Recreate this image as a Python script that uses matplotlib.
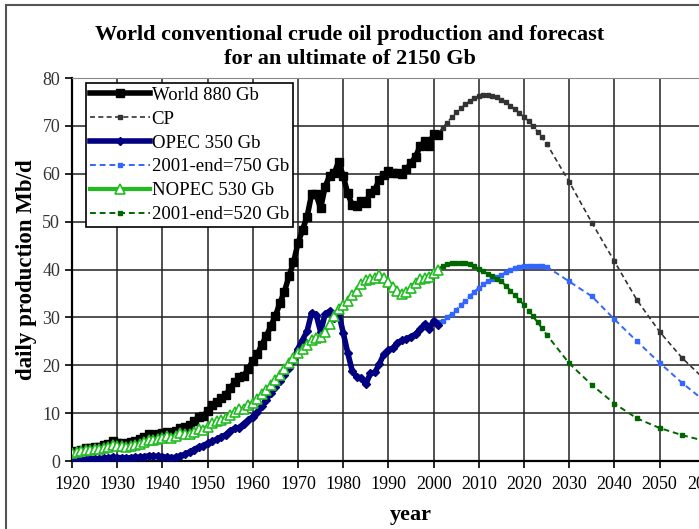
import matplotlib
matplotlib.use("Agg")
from matplotlib import pyplot as plt
from matplotlib.patches import Rectangle

plt.rcParams['font.family'] = ['Liberation Serif', 'DejaVu Serif']

# historical production 1920-2001, Mb/d
years = list(range(1920, 2002))
world = [1.9, 2.1, 2.4, 2.8, 2.8, 2.9, 3.0, 3.4, 3.6, 4.1,
         3.8, 3.8, 3.6, 3.9, 4.1, 4.5, 5.0, 5.6, 5.5, 5.7,
         5.9, 6.1, 5.7, 6.2, 7.0, 7.1, 7.5, 8.3, 9.3, 9.4,
         10.4, 11.7, 12.3, 13.1, 13.8, 15.2, 16.5, 17.5, 17.8, 19.3,
         20.9, 22.3, 24.3, 26.1, 28.2, 30.3, 33.0, 35.4, 38.6, 41.5,
         45.5, 48.3, 51.0, 55.7, 55.7, 52.8, 57.3, 59.6, 60.1, 62.5,
         59.5, 55.9, 53.4, 53.2, 54.4, 53.9, 56.0, 56.7, 58.7, 59.8,
         60.5, 60.2, 60.1, 60.0, 61.0, 62.2, 63.6, 65.7, 66.8, 65.9,
         68.3, 68.0]
opec = [0.2, 0.2, 0.3, 0.3, 0.4, 0.5, 0.5, 0.6, 0.7, 0.8,
        0.7, 0.7, 0.6, 0.7, 0.8, 0.8, 0.9, 1.1, 1.0, 1.0,
        0.9, 0.8, 0.7, 0.8, 1.1, 1.4, 1.9, 2.4, 2.9, 3.2,
        3.7, 4.1, 4.5, 5.0, 5.5, 6.3, 6.8, 7.0, 7.8, 8.5,
        9.3, 10.2, 11.5, 12.8, 14.3, 15.5, 16.8, 18.0, 19.5, 21.0,
        23.5, 25.3, 27.1, 30.9, 30.6, 27.0, 30.7, 31.3, 29.8, 30.9,
        26.8, 22.6, 18.8, 17.5, 17.4, 16.0, 18.3, 18.5, 20.3, 22.3,
        23.2, 23.6, 24.7, 25.2, 25.5, 26.0, 26.5, 27.5, 28.6, 27.6,
        29.3, 28.5]
nopec = [1.6, 1.8, 2.0, 2.3, 2.3, 2.5, 2.6, 2.8, 2.9, 3.3,
         3.1, 3.1, 3.0, 3.2, 3.3, 3.6, 4.0, 4.4, 4.4, 4.6,
         4.8, 5.2, 4.9, 5.3, 5.8, 5.6, 5.7, 6.1, 6.6, 6.5,
         7.2, 7.9, 8.3, 8.6, 8.9, 9.6, 10.3, 10.8, 10.9, 11.6,
         12.2, 12.9, 13.9, 14.9, 15.8, 16.9, 18.0, 19.3, 20.4, 21.6,
         22.6, 23.5, 24.3, 25.2, 25.6, 26.0, 27.0, 28.7, 30.3, 31.7,
         32.5, 33.4, 34.6, 35.6, 36.9, 37.8, 38.0, 38.2, 38.9, 38.3,
         37.4, 36.3, 35.5, 34.9, 35.3, 36.2, 37.2, 38.0, 38.3, 38.4,
         39.3, 39.8]

# forecasts: yearly to 2025, then every 5 years
fc_years = list(range(2001, 2026)) + [2030, 2035, 2040, 2045, 2050, 2055, 2060, 2065, 2070]
cp = [68.5, 69.6, 70.7, 71.8, 72.8, 73.7, 74.5, 75.2, 75.8, 76.2,
      76.4, 76.4, 76.3, 76.0, 75.5, 74.9, 74.2, 73.5, 72.7, 71.9,
      71.0, 70.0, 68.8, 67.6, 66.3,
      58.3, 49.8, 41.7, 33.6, 27.0, 21.5, 17.0, 13.5, 10.5]
opec_fc = [29.0, 29.3, 30.0, 30.8, 31.6, 32.5, 33.5, 34.5, 35.4, 36.2,
           36.9, 37.5, 38.0, 38.5, 38.9, 39.4, 39.9, 40.3, 40.6, 40.8,
           40.8, 40.8, 40.8, 40.7, 40.6,
           37.5, 34.4, 29.6, 25.0, 20.5, 16.3, 12.5, 9.5, 7.0]
nopec_fc = [40.2, 40.7, 41.1, 41.3, 41.4, 41.4, 41.3, 41.1, 40.7, 40.1,
            39.6, 39.1, 38.6, 38.1, 37.5, 36.6, 35.6, 34.6, 33.6, 32.6,
            31.4, 30.2, 29.0, 27.7, 26.4,
            20.4, 15.9, 12.0, 8.9, 6.9, 5.4, 4.2, 3.3, 2.6]

fig = plt.figure(figsize=(6.99, 5.29), dpi=100)
ax = fig.add_axes([0.103, 0.1285, 0.970, 0.724])

ax.plot(years, world, color='black', lw=4, marker='s', ms=6, label='World 880 Gb', zorder=5)
ax.plot(fc_years, cp, color='#333333', lw=1.2, ls=(0, (3, 2)), marker='s', ms=2.5, label='CP', zorder=4)
ax.plot(years, opec, color='#000080', lw=4, marker='D', ms=4, label='OPEC 350 Gb', zorder=5)
ax.plot(fc_years, opec_fc, color='#3366ff', lw=1.4, ls=(0, (3, 2)), marker='s', ms=3,
        label='2001-end=750 Gb', zorder=4)
ax.plot(years, nopec, color='#22bb22', lw=3, marker='^', ms=7, mfc='white', mec='#22bb22',
        mew=1.2, label='NOPEC 530 Gb', zorder=5)
ax.plot(fc_years, nopec_fc, color='#006600', lw=1.4, ls=(0, (3, 2)), marker='s', ms=3,
        label='2001-end=520 Gb', zorder=4)

ax.set_xlim(1920, 2070)
ax.set_ylim(0, 80)
ax.set_xticks(range(1920, 2071, 10))
ax.set_yticks(range(0, 81, 10))
ax.grid(True, color='#222222', lw=1.1)
ax.set_axisbelow(True)
ax.tick_params(direction='out', length=5, width=1.2, labelsize=13, colors='black')
ax.tick_params(axis='y', labelcolor='#333333')
ax.tick_params(axis='x', pad=6)
for s in ['left', 'bottom']:
    ax.spines[s].set_linewidth(1.6)
ax.spines['top'].set_color('#888888')
ax.spines['right'].set_visible(False)

ax.set_xlabel('year', fontsize=16, fontweight='bold', labelpad=8.5)
ax.set_ylabel('daily production Mb/d', fontsize=16.5, fontweight='bold', labelpad=4)

leg = ax.legend(loc='upper left', bbox_to_anchor=(86 / 699, 1 - 83 / 529), bbox_transform=fig.transFigure,
                fontsize=13.5, frameon=True, fancybox=False, framealpha=1, edgecolor='black',
                handlelength=3.2, handletextpad=0.1, labelspacing=0.36, borderpad=0.2, borderaxespad=0)
leg.get_frame().set_linewidth(1.2)
leg.set_zorder(10)

fig.text(0.5, 1 - 47 / 529, 'World conventional crude oil production and forecast\nfor an ultimate of 2150 Gb',
         ha='center', va='center', fontsize=16, fontweight='bold', linespacing=1.25)

fig.patches.append(Rectangle((6 / 699, -0.1), 1.2, 1 - 5 / 529 + 0.1, transform=fig.transFigure,
                             fill=False, edgecolor='#555555', lw=1.5))

fig.savefig('out.png', dpi=100)
